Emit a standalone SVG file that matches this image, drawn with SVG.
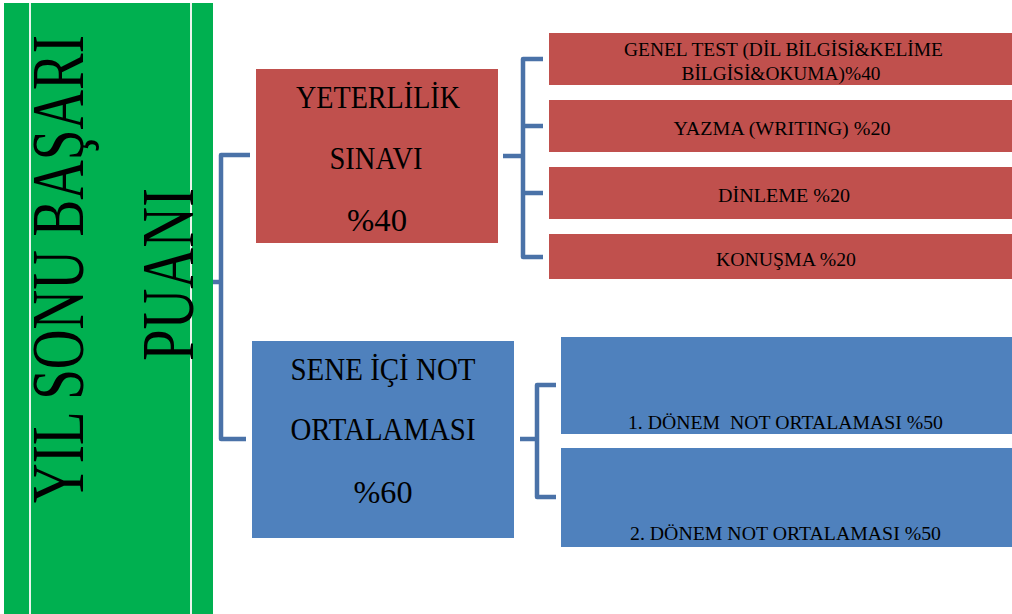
<svg xmlns="http://www.w3.org/2000/svg" width="1012" height="614" viewBox="0 0 1012 614">
<style>
.t{font-family:"Liberation Serif","Times New Roman",serif;fill:#000;text-anchor:middle}
.big{font-size:32px}
.sm{font-size:19.5px}
.title{font-size:75px}
.red{fill:#C0504D}
.blue{fill:#4F81BD}
.con{fill:none;stroke:#4A72A8;stroke-width:4.5;stroke-linejoin:round}
</style>
<rect width="1012" height="614" fill="#fff"/>
<g id="root">
<rect x="4" y="3" width="209" height="611" fill="#00B050"/>
<rect x="29" y="3" width="2" height="611" fill="#e8f5ec"/>
<rect x="190" y="3" width="2" height="611" fill="#e8f5ec"/>
<text class="t title" transform="translate(83,269) rotate(-90)" textLength="468" lengthAdjust="spacingAndGlyphs">YIL SONU BAŞARI</text>
<text class="t title" transform="translate(193,274.5) rotate(-90)" textLength="173" lengthAdjust="spacingAndGlyphs">PUANI</text>
</g>
<g id="connectors">
<path class="con" d="M213,282 H221"/>
<path class="con" d="M250,155 H221 V439 H246"/>
<path class="con" d="M503,156 H523"/>
<path class="con" d="M543,59 H523 V257 H543 M523,126 H543 M523,193 H543"/>
<path class="con" d="M520,439 H537"/>
<path class="con" d="M556,385 H537 V497 H556"/>
</g>
<g id="yeterlilik">
<rect class="red" x="256" y="69" width="242" height="174"/>
<text class="t big" x="378" y="108" textLength="164" lengthAdjust="spacingAndGlyphs">YETERLİLİK</text>
<text class="t big" x="376" y="169" textLength="93" lengthAdjust="spacingAndGlyphs">SINAVI</text>
<text class="t big" x="377" y="231" textLength="60" lengthAdjust="spacingAndGlyphs">%40</text>
</g>
<g id="sene">
<rect class="blue" x="252" y="341" width="262" height="197"/>
<text class="t big" x="383" y="380" textLength="185" lengthAdjust="spacingAndGlyphs">SENE İÇİ NOT</text>
<text class="t big" x="383" y="440" textLength="185" lengthAdjust="spacingAndGlyphs">ORTALAMASI</text>
<text class="t big" x="383" y="503" textLength="59" lengthAdjust="spacingAndGlyphs">%60</text>
</g>
<g id="genel">
<rect class="red" x="549" y="33" width="463" height="52"/>
<text class="t sm" x="783.5" y="56" textLength="319" lengthAdjust="spacingAndGlyphs">GENEL TEST (DİL BİLGİSİ&amp;KELİME</text>
<text class="t sm" x="781" y="80" textLength="199" lengthAdjust="spacingAndGlyphs">BİLGİSİ&amp;OKUMA)%40</text>
</g>
<g id="yazma">
<rect class="red" x="549" y="100" width="463" height="52"/>
<text class="t sm" x="782" y="135" textLength="217" lengthAdjust="spacingAndGlyphs">YAZMA (WRITING) %20</text>
</g>
<g id="dinleme">
<rect class="red" x="549" y="167" width="463" height="52"/>
<text class="t sm" x="784" y="202" textLength="132" lengthAdjust="spacingAndGlyphs">DİNLEME %20</text>
</g>
<g id="konusma">
<rect class="red" x="549" y="234" width="463" height="45"/>
<text class="t sm" x="786" y="266" textLength="140" lengthAdjust="spacingAndGlyphs">KONUŞMA %20</text>
</g>
<g id="donem1">
<rect class="blue" x="561" y="337" width="451" height="97"/>
<text class="t sm" x="785.5" y="429" textLength="315" lengthAdjust="spacingAndGlyphs" xml:space="preserve">1. DÖNEM  NOT ORTALAMASI %50</text>
</g>
<g id="donem2">
<rect class="blue" x="561" y="448" width="451" height="99"/>
<text class="t sm" x="785.5" y="540" textLength="311" lengthAdjust="spacingAndGlyphs">2. DÖNEM NOT ORTALAMASI %50</text>
</g>
</svg>
